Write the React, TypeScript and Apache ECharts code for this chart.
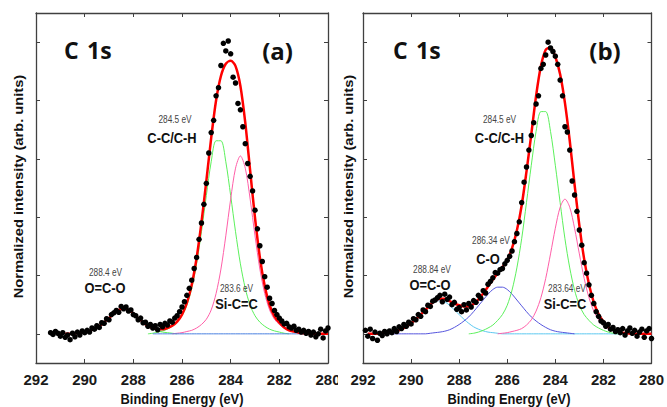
import React, { useEffect, useRef } from "react";
import * as echarts from "echarts";

const n = null;

// Energy grid of the fitted curves (eV)
const CURVE_E = [291.8, 291.6, 291.4, 291.2, 291.0, 290.8, 290.6, 290.4, 290.2, 290.0,
  289.8, 289.6, 289.4, 289.2, 289.0, 288.8, 288.6, 288.4, 288.2, 288.0,
  287.8, 287.6, 287.4, 287.2, 287.0, 286.8, 286.6, 286.4, 286.2, 286.0,
  285.8, 285.6, 285.4, 285.2, 285.0, 284.8, 284.6, 284.4, 284.2, 284.0,
  283.8, 283.6, 283.4, 283.2, 283.0, 282.8, 282.6, 282.4, 282.2, 282.0,
  281.8, 281.6, 281.4, 281.2, 281.0, 280.8, 280.6, 280.4, 280.2, 280.0];

// Energy grid of the measured points (eV)
const DATA_E = [291.9, 291.8, 291.7, 291.6, 291.5, 291.4, 291.3, 291.2, 291.1, 291.0,
  290.9, 290.8, 290.7, 290.6, 290.5, 290.4, 290.3, 290.2, 290.1, 290.0,
  289.9, 289.8, 289.7, 289.6, 289.5, 289.4, 289.3, 289.2, 289.1, 289.0,
  288.9, 288.8, 288.7, 288.6, 288.5, 288.4, 288.3, 288.2, 288.1, 288.0,
  287.9, 287.8, 287.7, 287.6, 287.5, 287.4, 287.3, 287.2, 287.1, 287.0,
  286.9, 286.8, 286.7, 286.6, 286.5, 286.4, 286.3, 286.2, 286.1, 286.0,
  285.9, 285.8, 285.7, 285.6, 285.5, 285.4, 285.3, 285.2, 285.1, 285.0,
  284.9, 284.8, 284.7, 284.6, 284.5, 284.4, 284.3, 284.2, 284.1, 284.0,
  283.9, 283.8, 283.7, 283.6, 283.5, 283.4, 283.3, 283.2, 283.1, 283.0,
  282.9, 282.8, 282.7, 282.6, 282.5, 282.4, 282.3, 282.2, 282.1, 282.0,
  281.9, 281.8, 281.7, 281.6, 281.5, 281.4, 281.3, 281.2, 281.1, 281.0,
  280.9, 280.8, 280.7, 280.6, 280.5, 280.4, 280.3, 280.2, 280.1, 280.0];

const X_TICKS = [292, 290, 288, 286, 284, 282, 280];
const Y_TICKS = [0, 1, 2, 3, 4, 5];

// ---------- Panel (a) ----------
const A_FIT = [n, n, n, n, n, 0, 0, 0.01, 0.02, 0.03,
  0.05, 0.09, 0.13, 0.20, 0.27, 0.35, 0.41, 0.43, 0.41, 0.35,
  0.27, 0.20, 0.13, 0.10, 0.08, 0.08, 0.10, 0.14, 0.21, 0.33,
  0.53, 0.84, 1.30, 1.91, 2.62, 3.36, 4.00, 4.42, 4.63, 4.68,
  4.59, 4.25, 3.62, 2.80, 1.99, 1.31, 0.82, 0.49, 0.30, 0.19,
  0.11, 0.06, 0.04, 0.02, 0.01, 0, 0, 0, 0, 0];
const A_OCO = [n, n, n, n, n, n, 0, 0.01, 0.02, 0.03,
  0.05, 0.09, 0.13, 0.20, 0.27, 0.35, 0.41, 0.43, 0.41, 0.35,
  0.27, 0.20, 0.13, 0.09, 0.05, 0.03, 0.02, 0.01, 0, n,
  n, n, n, n, n, n, n, n, n, n,
  n, n, n, n, n, n, n, n, n, n,
  n, n, n, n, n, n, n, n, n, n];
const A_CC = [n, n, n, n, n, n, n, n, n, n,
  n, n, n, n, n, n, n, n, n, n,
  n, n, 0, 0.01, 0.03, 0.05, 0.08, 0.13, 0.20, 0.31,
  0.49, 0.78, 1.20, 1.75, 2.37, 2.95, 3.31, 3.31, 2.95, 2.37,
  1.75, 1.20, 0.78, 0.49, 0.31, 0.20, 0.13, 0.08, 0.05, 0.03,
  0.01, 0, n, n, n, n, n, n, n, n];
const A_SIC = [n, n, n, n, n, n, n, n, n, n,
  n, n, n, n, n, n, n, n, n, n,
  n, n, n, n, n, n, n, 0, 0.01, 0.02,
  0.04, 0.06, 0.10, 0.16, 0.25, 0.41, 0.69, 1.11, 1.68, 2.31,
  2.84, 3.05, 2.84, 2.31, 1.68, 1.11, 0.69, 0.41, 0.25, 0.16,
  0.10, 0.06, 0.04, 0.02, 0.01, 0, n, n, n, n];
const A_BASE = [n, n, n, n, n, n, n, n, n, n,
  n, n, n, n, n, n, n, n, n, n,
  n, n, n, 0, 0, 0, 0, 0, 0, 0,
  0, 0, 0, 0, 0, 0, 0, 0, 0, 0,
  0, 0, 0, 0, 0, 0, 0, 0, 0, 0,
  0, 0, 0, 0, 0, 0, 0, 0, 0, 0];
const A_DATA = [n, n, n, n, n, 0.02, -0.01, 0.04, 0.01, -0.04,
  0.02, -0.06, -0.02, -0.10, 0.01, -0.05, 0.03, -0.02, 0.05, 0.02,
  0.06, 0.03, 0.10, 0.08, 0.14, 0.11, 0.19, 0.18, 0.26, 0.24,
  0.33, 0.36, 0.40, 0.37, 0.47, 0.43, 0.46, 0.39, 0.41, 0.33,
  0.31, 0.24, 0.27, 0.19, 0.20, 0.13, 0.16, 0.10, 0.14, 0.07,
  0.16, 0.12, 0.18, 0.15, 0.22, 0.20, 0.27, 0.31, 0.38, 0.46,
  0.55, 0.66, 0.78, 0.92, 1.12, 1.31, 1.62, 1.90, 2.22, 2.58,
  3.10, 3.45, 3.66, 4.08, 4.22, 4.60, 4.98, 4.85, 5.02, 4.80,
  4.40, 4.30, 3.95, 3.84, 3.55, 3.26, 2.92, 2.70, 2.45, 2.12,
  1.80, 1.51, 1.24, 0.98, 0.80, 0.61, 0.52, 0.40, 0.33, 0.27,
  0.22, 0.17, 0.18, 0.12, 0.10, 0.13, 0.06, 0.08, 0.03, 0.06,
  0.01, 0.04, -0.02, 0.03, -0.05, 0.00, 0.08, -0.07, 0.05, 0.10];

// ---------- Panel (b) ----------
const B_FIT = [0, 0, 0, 0.01, 0.02, 0.03, 0.05, 0.08, 0.12, 0.18,
  0.25, 0.33, 0.41, 0.50, 0.57, 0.60, 0.60, 0.56, 0.52, 0.49,
  0.47, 0.47, 0.51, 0.59, 0.69, 0.81, 0.93, 1.04, 1.14, 1.27,
  1.47, 1.77, 2.20, 2.78, 3.42, 4.08, 4.59, 4.87, 4.91, 4.75,
  4.45, 3.96, 3.31, 2.56, 1.86, 1.28, 0.85, 0.54, 0.34, 0.21,
  0.12, 0.07, 0.04, 0.02, 0.01, 0, 0, 0, 0, 0];
const B_OCO = [0, 0, 0, 0.01, 0.02, 0.03, 0.05, 0.08, 0.12, 0.18,
  0.25, 0.33, 0.41, 0.49, 0.55, 0.57, 0.55, 0.49, 0.41, 0.33,
  0.25, 0.18, 0.12, 0.08, 0.05, 0.03, 0.02, 0.01, 0, 0,
  0, 0, 0, 0, 0, 0, 0, 0, 0, 0,
  0, 0, 0, 0, 0, 0, 0, 0, 0, 0,
  0, 0, 0, 0, 0, 0, 0, 0, 0, 0];
const B_CO = [0, 0, 0, 0, 0, 0, 0, 0, 0, 0,
  0, 0, 0, 0.01, 0.02, 0.03, 0.045, 0.07, 0.11, 0.16,
  0.22, 0.29, 0.38, 0.48, 0.58, 0.68, 0.76, 0.80, 0.80, 0.76,
  0.68, 0.58, 0.48, 0.38, 0.29, 0.22, 0.16, 0.11, 0.07, 0.045,
  0.03, 0.02, 0.01, 0, n, n, n, n, n, n,
  n, n, n, n, n, n, n, n, n, n];
const B_CC = [n, n, n, n, n, n, n, n, n, n,
  n, n, n, n, n, n, n, n, n, n,
  n, 0, 0.01, 0.03, 0.06, 0.10, 0.15, 0.23, 0.33, 0.49,
  0.75, 1.13, 1.63, 2.25, 2.89, 3.47, 3.81, 3.81, 3.47, 2.89,
  2.25, 1.63, 1.13, 0.75, 0.49, 0.33, 0.23, 0.15, 0.10, 0.06,
  0.03, 0.01, 0, n, n, n, n, n, n, n];
const B_SIC = [n, n, n, n, n, n, n, n, n, n,
  n, n, n, n, n, n, n, n, n, n,
  n, n, n, n, n, n, n, 0, 0.01, 0.02,
  0.04, 0.06, 0.09, 0.15, 0.24, 0.39, 0.62, 0.95, 1.37, 1.81,
  2.17, 2.31, 2.17, 1.81, 1.37, 0.95, 0.62, 0.39, 0.24, 0.15,
  0.09, 0.06, 0.04, 0.02, 0.01, 0, n, n, n, n];
const B_DATA = [0.06, -0.04, 0.08, -0.08, 0.03, -0.11, 0.01, -0.03, 0.04, 0.00,
  0.05, 0.02, 0.09, 0.04, 0.12, 0.09, 0.16, 0.13, 0.20, 0.17,
  0.26, 0.24, 0.33, 0.30, 0.41, 0.38, 0.49, 0.47, 0.56, 0.58,
  0.62, 0.66, 0.55, 0.68, 0.59, 0.63, 0.50, 0.54, 0.42, 0.45,
  0.38, 0.50, 0.41, 0.52, 0.46, 0.57, 0.54, 0.66, 0.61, 0.74,
  0.70, 0.85, 0.90, 0.96, 1.05, 1.04, 1.10, 1.12, 1.20, 1.26,
  1.33, 1.42, 1.58, 1.72, 1.92, 2.25, 2.60, 2.86, 3.15, 3.40,
  3.62, 3.94, 4.08, 4.55, 4.62, 4.78, 5.00, 4.90, 4.84, 4.76,
  4.62, 4.35, 4.08, 3.55, 3.46, 3.15, 2.62, 2.38, 2.10, 1.78,
  1.52, 1.22, 1.04, 0.84, 0.66, 0.52, 0.38, 0.30, 0.22, 0.19,
  0.13, 0.16, 0.08, 0.11, 0.04, 0.07, 0.02, 0.09, -0.02, 0.05,
  0.10, 0.01, 0.06, -0.04, 0.03, 0.08, -0.06, 0.05, 0.09, -0.08];

const SANS = "'Liberation Sans', Arial, sans-serif";
const TITLE_FONT = "'Open Sans', 'Liberation Sans', sans-serif";

const C_RED = "#ff0000";
const C_GREEN = "#5cf05c";
const C_PINK = "#ff5fa8";
const C_BLUE = "#5555dd";
const C_CYAN = "#5cc8f0";
const C_BASE = "#4a80e0";
const C_FRAME = "#404040";

function pairs(xs: number[], ys: (number | null)[]) {
  const out: number[][] = [];
  for (let i = 0; i < xs.length; i++) {
    const v = ys[i];
    if (v !== null && v !== undefined) out.push([xs[i], v]);
  }
  return out;
}

function lineSeries(p: number, ys: (number | null)[], color: string, width: number, z: number) {
  return {
    type: "line",
    xAxisIndex: p * 2,
    yAxisIndex: p * 2,
    data: pairs(CURVE_E, ys),
    showSymbol: false,
    symbol: "none",
    smooth: 0.3,
    lineStyle: { color, width },
    z,
    silent: true,
  };
}

function scatterSeries(p: number, ys: (number | null)[]) {
  return {
    type: "scatter",
    xAxisIndex: p * 2,
    yAxisIndex: p * 2,
    data: pairs(DATA_E, ys),
    symbol: "circle",
    symbolSize: 5.5,
    itemStyle: { color: "#000", opacity: 1 },
    z: 10,
    silent: true,
  };
}

function txt(
  text: string, x: number, y: number, size: number, weight: string, family: string,
  color: string, align = "center", rotation = 0, scaleX = 1, scaleY = 1
) {
  return {
    type: "text",
    x,
    y,
    rotation,
    scaleX,
    scaleY,
    z: 50,
    silent: true,
    style: {
      text,
      fill: color,
      fontSize: size,
      fontWeight: weight,
      fontFamily: family,
      align,
      textAlign: align,
      verticalAlign: "middle",
      textVerticalAlign: "middle",
    },
  };
}

const SQ = 0.83; // horizontal squeeze of the original picture's lettering

const PANEL_LEFT = [36, 363];

export default function App() {
  const ref = useRef<HTMLDivElement>(null);

  useEffect(() => {
    if (!ref.current) return;
    const chart = echarts.init(ref.current, null, { renderer: "svg" });

    const grids: any[] = [];
    const xAxes: any[] = [];
    const yAxes: any[] = [];
    PANEL_LEFT.forEach((left, p) => {
      grids.push({ left, top: 13, width: 292, height: 350, containLabel: false });
      const xBase = {
        gridIndex: p,
        type: "value",
        min: 280,
        max: 292,
        interval: 2,
        inverse: true,
        splitLine: { show: false },
        axisLine: { show: true, onZero: false, lineStyle: { color: C_FRAME, width: 1.3 } },
        axisTick: { show: true, inside: true, length: 4, lineStyle: { color: C_FRAME, width: 1 } },
      };
      xAxes.push({
        ...xBase,
        position: "bottom",
        axisLabel: {
          show: true,
          margin: 9,
          fontSize: 15,
          fontWeight: "bold",
          fontFamily: SANS,
          color: "#1a1a1a",
          showMinLabel: true,
          showMaxLabel: true,
          formatter: (v: number) => (X_TICKS.indexOf(v) >= 0 ? String(v) : ""),
        },
      });
      xAxes.push({ ...xBase, position: "top", axisLabel: { show: false } });
      const yBase = {
        gridIndex: p,
        type: "value",
        min: -0.5,
        max: 5.5,
        splitLine: { show: false },
        axisLabel: { show: false },
        axisLine: { show: true, onZero: false, lineStyle: { color: C_FRAME, width: 1.3 } },
        axisTick: { show: true, inside: true, length: 4, customValues: Y_TICKS, lineStyle: { color: C_FRAME, width: 1 } },
      };
      yAxes.push({ ...yBase, position: "left" });
      yAxes.push({ ...yBase, position: "right" });
    });

    const series: any[] = [
      // panel (a)
      lineSeries(0, A_OCO, C_GREEN, 1, 2),
      lineSeries(0, A_CC, C_GREEN, 1, 2),
      lineSeries(0, A_SIC, C_PINK, 1, 2),
      lineSeries(0, A_BASE, C_BASE, 1, 3),
      lineSeries(0, A_FIT, C_RED, 2.5, 5),
      scatterSeries(0, A_DATA),
      // panel (b)
      lineSeries(1, B_OCO, C_CYAN, 1, 2),
      lineSeries(1, B_CO, C_BLUE, 1, 2),
      lineSeries(1, B_CC, C_GREEN, 1, 2),
      lineSeries(1, B_SIC, C_PINK, 1, 2),
      lineSeries(1, B_FIT, C_RED, 2.5, 5),
      scatterSeries(1, B_DATA),
    ];

    const graphics: any[] = [
      // panel (a)
      txt("C", 64, 50, 23, "bold", TITLE_FONT, "#111", "left"),
      txt("1s", 87, 50, 23, "bold", TITLE_FONT, "#111", "left"),
      txt("(a)", 277.5, 50, 24, "bold", TITLE_FONT, "#111"),
      txt("284.5 eV", 175, 120, 10, "normal", SANS, "#444", "center", 0, SQ),
      txt("C-C/C-H", 172, 138, 15.5, "bold", SANS, "#111", "center", 0, SQ),
      txt("288.4 eV", 105.5, 273, 10, "normal", SANS, "#444", "center", 0, SQ),
      txt("O=C-O", 105, 288, 15.5, "bold", SANS, "#111", "center", 0, SQ),
      txt("283.6 eV", 236.5, 289, 10, "normal", SANS, "#444", "center", 0, SQ),
      txt("Si-C=C", 236.5, 304, 15.5, "bold", SANS, "#111", "center", 0, SQ),
      txt("Normalized intensity (arb. units)", 18, 186.5, 14.7, "bold", SANS, "#111", "center", Math.PI / 2, 1, 0.88),
      txt("Binding Energy (eV)", 182, 398.5, 15.5, "bold", SANS, "#111", "center", 0, SQ),
      // panel (b)
      txt("C", 393, 50, 23, "bold", TITLE_FONT, "#111", "left"),
      txt("1s", 416, 50, 23, "bold", TITLE_FONT, "#111", "left"),
      txt("(b)", 605, 50, 24, "bold", TITLE_FONT, "#111"),
      txt("284.5 eV", 499.5, 120, 10, "normal", SANS, "#444", "center", 0, SQ),
      txt("C-C/C-H", 499.5, 138, 15.5, "bold", SANS, "#111", "center", 0, SQ),
      txt("286.34 eV", 491, 241, 10, "normal", SANS, "#444", "center", 0, SQ),
      txt("C-O", 488, 259, 15.5, "bold", SANS, "#111", "center", 0, SQ),
      txt("288.84 eV", 432, 270, 10, "normal", SANS, "#444", "center", 0, SQ),
      txt("O=C-O", 430, 285, 15.5, "bold", SANS, "#111", "center", 0, SQ),
      txt("283.64 eV", 567, 289, 10, "normal", SANS, "#444", "center", 0, SQ),
      txt("Si-C=C", 565, 304, 15.5, "bold", SANS, "#111", "center", 0, SQ),
      txt("Normalized intensity (arb. units)", 348, 186.5, 14.7, "bold", SANS, "#111", "center", Math.PI / 2, 1, 0.88),
      txt("Binding Energy (eV)", 509, 398.5, 15.5, "bold", SANS, "#111", "center", 0, SQ),
      // seam between the two pictures
      { type: "rect", z: 60, silent: true, shape: { x: 338, y: 368, width: 6, height: 22 }, style: { fill: "#fff" } },
    ];

    chart.setOption({
      animation: false,
      backgroundColor: "#ffffff",
      grid: grids,
      xAxis: xAxes,
      yAxis: yAxes,
      series,
      graphic: { elements: graphics },
    });

    return () => chart.dispose();
  }, []);

  return (
    <div
      ref={ref}
      style={{ position: "fixed", left: 0, top: 0, width: 667, height: 407, background: "#fff" }}
    />
  );
}
